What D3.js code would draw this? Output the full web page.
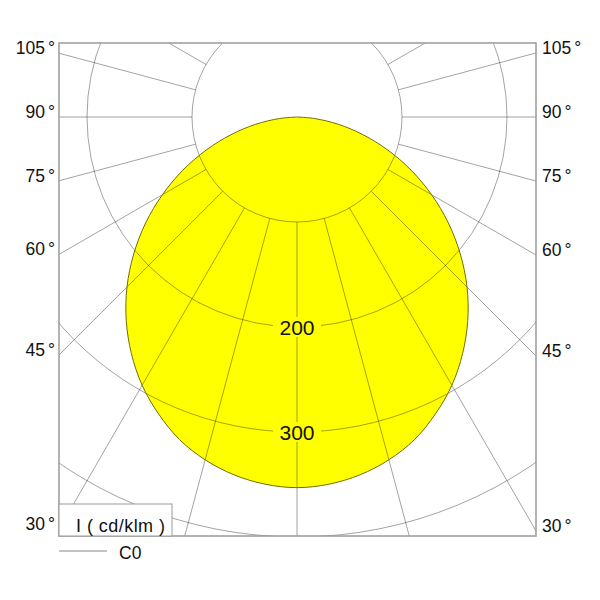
<!DOCTYPE html>
<html><head><meta charset="utf-8">
<script src="https://cdn.jsdelivr.net/npm/d3@7"></script>
<style>body{margin:0;background:#fff}svg{display:block}</style>
</head><body>
<svg id="c" width="600" height="600"></svg>
<script>
// ---- data ----
const gammaDeg = [0,5,10,15,20,25,30,35,40,45,50,55,60,65,70,75,80,85,90];
const intensityC0 = [353,351,346,338,327,312,295,275,253,229,203,176,148,120,92,65,40,17,0];
const ringValues = [100,200,300,400];
const ringLabelValues = [200,300];
const spokeAngles = [0,15,30,45,60,75,90,105,120,135,150,165,180];
const angleTickLabels = [30,45,60,75,90,105];
const unitLabel = "I ( cd/klm )";
const seriesName = "C0";

// ---- layout ----
const W = 600, H = 600;
const frame = {x0: 59, y0: 43, x1: 536, y1: 536};
const cx = 297, cy = 117;
const rScale = d3.scaleLinear().domain([0, 400]).range([0, 420]);
const FONT = "'Liberation Sans', Arial, Helvetica, sans-serif";
const rad = d => d * Math.PI / 180;

const svg = d3.select("#c");
svg.append("rect").attr("width", W).attr("height", H).attr("fill", "#fff");

svg.append("defs").append("clipPath").attr("id", "fclip")
  .append("rect").attr("x", frame.x0).attr("y", frame.y0)
  .attr("width", frame.x1 - frame.x0).attr("height", frame.y1 - frame.y0);

const plot = svg.append("g").attr("clip-path", "url(#fclip)");
const g = plot.append("g").attr("transform", `translate(${cx},${cy})`);

// curve points: left side (C180 mirror) from 90 down to 0, then right side 5..90
const pts = [];
for (let i = gammaDeg.length - 1; i >= 0; i--) pts.push({a: Math.PI + rad(gammaDeg[i]), r: rScale(intensityC0[i])});
for (let i = 1; i < gammaDeg.length; i++) pts.push({a: Math.PI - rad(gammaDeg[i]), r: rScale(intensityC0[i])});
const radial = d3.lineRadial().angle(d => d.a).radius(d => d.r).curve(d3.curveCatmullRom.alpha(0.5));

g.append("path").attr("d", radial(pts) + "Z").attr("fill", "#ffff00").attr("stroke", "none");

// grid: rings
const gridCol = "#000", gridOp = 0.36;
g.selectAll("circle.ring").data(ringValues).join("circle")
  .attr("r", d => rScale(d)).attr("fill", "none")
  .attr("stroke", gridCol).attr("stroke-opacity", gridOp).attr("stroke-width", 1);

// grid: spokes (both sides), starting at first ring
const spokes = [];
spokeAngles.forEach(a => { spokes.push(Math.PI - rad(a)); if (a > 0 && a < 180) spokes.push(Math.PI + rad(a)); });
g.selectAll("line.spoke").data(spokes).join("line")
  .attr("x1", a => rScale(100) * Math.sin(a)).attr("y1", a => -rScale(100) * Math.cos(a))
  .attr("x2", a => rScale(700) * Math.sin(a)).attr("y2", a => -rScale(700) * Math.cos(a))
  .attr("stroke", gridCol).attr("stroke-opacity", gridOp).attr("stroke-width", 1);

// outline
g.append("path").attr("d", radial(pts) + "Z").attr("fill", "none")
  .attr("stroke", "#6f6f00").attr("stroke-width", 1);

// ring labels
ringLabelValues.forEach(v => {
  const y = rScale(v);
  g.append("rect").attr("x", -24).attr("y", y - 10).attr("width", 48).attr("height", 20).attr("fill", "#ffff00");
  g.append("text").attr("x", 0).attr("y", y + 7.5).attr("text-anchor", "middle")
    .attr("font-family", FONT).attr("font-size", 21).attr("fill", "#111").text(v);
});

// frame
svg.append("rect").attr("x", frame.x0).attr("y", frame.y0)
  .attr("width", frame.x1 - frame.x0).attr("height", frame.y1 - frame.y0)
  .attr("fill", "none").attr("stroke", "#9a9a9a").attr("stroke-width", 1.5);

// angle labels
angleTickLabels.forEach(a => {
  const t = rad(a);
  const yl = cy + (cx - frame.x0) * Math.cos(t) / Math.sin(t) + 1;
  const yr = cy + (frame.x1 - cx) * Math.cos(t) / Math.sin(t) + 1;
  const tl = svg.append("text").attr("x", 55).attr("y", yl).attr("text-anchor", "end")
    .attr("font-family", FONT).attr("font-size", 17.5).attr("fill", "#111");
  tl.append("tspan").text(a);
  tl.append("tspan").attr("dx", 3).text("°");
  const tr = svg.append("text").attr("x", 542).attr("y", yr).attr("text-anchor", "start")
    .attr("font-family", FONT).attr("font-size", 17.5).attr("fill", "#111");
  tr.append("tspan").text(a);
  tr.append("tspan").attr("dx", 3).text("°");
});

// unit box
svg.append("rect").attr("x", frame.x0).attr("y", 504).attr("width", 113).attr("height", 32)
  .attr("fill", "#fff").attr("stroke", "#9a9a9a").attr("stroke-width", 1);
svg.append("text").attr("x", 76).attr("y", 531.5).attr("font-family", FONT)
  .attr("font-size", 18).attr("fill", "#111").attr("textLength", 89).attr("lengthAdjust", "spacing").text(unitLabel);

// legend
svg.append("line").attr("x1", 59).attr("x2", 107).attr("y1", 551).attr("y2", 551)
  .attr("stroke", "#888").attr("stroke-width", 1);
svg.append("text").attr("x", 119).attr("y", 559).attr("font-family", FONT)
  .attr("font-size", 17.5).attr("fill", "#111").text(seriesName);
</script>
</body></html>
